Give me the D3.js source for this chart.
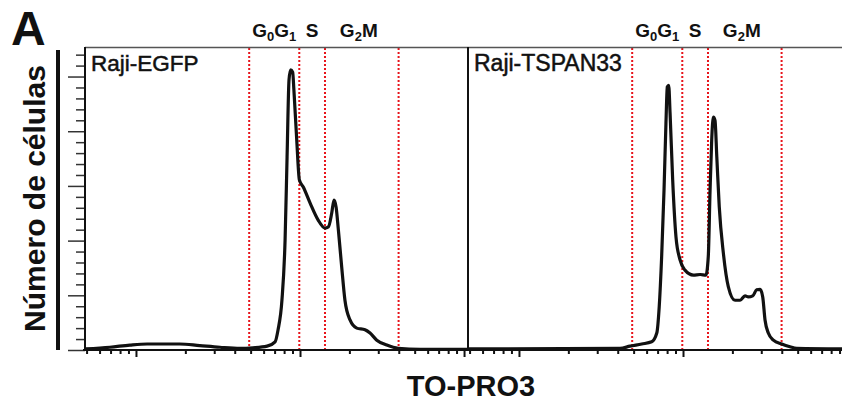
<!DOCTYPE html>
<html>
<head>
<meta charset="utf-8">
<script src="https://cdn.jsdelivr.net/npm/d3@7"></script>
<style>
  html, body { margin: 0; padding: 0; background: #fff; }
  svg { display: block; font-family: "Liberation Sans", Arial, Helvetica, sans-serif; }
</style>
</head>
<body>
<svg id="chart" width="842" height="402"></svg>
<script>
// Cell-cycle DNA content histograms (TO-PRO3), two cell lines
const panelNames = ["Raji-EGFP", "Raji-TSPAN33"];

// Raji-EGFP: TO-PRO3 intensity vs. number of cells
const egfpIntensity = [4.95, 6.93, 9.18, 11.7, 18.5, 24.5, 32.5, 43.1, 51.6, 63.0,
  70.5, 73.5, 77.6, 81.1, 83.4, 85.7, 87.7, 90.2, 91.8, 95.5,
  99.1, 104.7, 115.1, 128.8, 141.9, 148.9, 156.0, 161.1, 166.0, 171.4,
  179.5, 187.9, 201.8, 221.8, 248.9, 267.3, 293.8, 338.1, 396.3, 539.5, 1057];
const egfpCount = [2, 5, 9, 11, 11, 8, 5, 3, 4, 7,
  15, 37, 91, 201, 353, 494, 512, 508, 475, 384,
  311, 298, 269, 238, 223, 225, 250, 274, 261, 219,
  152, 91, 55, 40, 37, 31, 18, 9, 3, 1, 1];

// Raji-TSPAN33: TO-PRO3 intensity vs. number of cells
const tspanIntensity = [4.89, 41.3, 47.5, 56.0, 64.4, 69.2, 71.6, 74.1, 76.6, 78.7,
  80.2, 81.8, 83.4, 86.5, 90.6, 95.9, 102.8, 115.6, 127.1, 138.0,
  142.6, 146.2, 149.6, 153.1, 156.7, 160.7, 166.3, 176.2, 188.8, 207.5,
  222.8, 238.8, 250.0, 266.1, 281.2, 295.1, 306.2, 316.2, 331.1, 355.6,
  400.0, 448.7, 493.3, 1057];
const tspanCount = [2, 3, 7, 11, 15, 31, 79, 171, 292, 414,
  481, 484, 433, 311, 207, 165, 146, 137, 138, 137,
  171, 292, 384, 426, 420, 353, 262, 177, 116, 91,
  91, 99, 97, 99, 110, 111, 97, 55, 31, 18,
  11, 6, 3, 2];

// Gate boundaries (TO-PRO3 intensity) and the phase names between them
const gateBounds = [49, 99, 142, 399];
const phaseNames = ["G0G1", "S", "G2M"];

const xDomain = [4.89, 1057];
const yDomain = [0, 554];
const yMajorTicks = [0, 100, 200, 300, 400, 500];
const yMinorTicks = [20, 40, 60, 80, 120, 140, 160, 180, 220, 240, 260, 280,
  320, 340, 360, 380, 420, 440, 460, 480, 520, 540];

const panelLetter = "A";
const yTitle = "Número de células";
const xTitle = "TO-PRO3";

// ---- layout ----
const plotTop = 47, plotBottom = 350, firstLeft = 85, panelW = 383, svgW = 842;

const svg = d3.select("#chart");
const y = d3.scaleLinear().domain(yDomain).range([plotBottom, plotTop]);

const series = [
  egfpIntensity.map((v, i) => [v, egfpCount[i]]),
  tspanIntensity.map((v, i) => [v, tspanCount[i]])
];

const isDecade = v => Math.abs(Math.log10(v) - Math.round(Math.log10(v))) < 1e-9;

panelNames.forEach((name, i) => {
  const x0 = firstLeft + i * panelW;
  const x = d3.scaleLog().domain(xDomain).range([x0, x0 + panelW]);
  const g = svg.append("g");

  // gate lines
  g.selectAll("line.gate").data(gateBounds).join("line")
    .attr("class", "gate")
    .attr("x1", d => x(d)).attr("x2", d => x(d))
    .attr("y1", plotTop + 1).attr("y2", plotBottom)
    .attr("stroke", "#e8141b").attr("stroke-width", 2)
    .attr("stroke-dasharray", "2,2");

  // histogram outline
  const line = d3.line().x(d => x(d[0])).y(d => y(d[1])).curve(d3.curveMonotoneX);
  g.append("path").datum(series[i])
    .attr("d", line)
    .attr("fill", "none").attr("stroke", "#111")
    .attr("stroke-width", 3.2).attr("stroke-linejoin", "round");

  // x-axis ticks: decades long, intermediate short
  const allTicks = x.ticks();
  const majors = allTicks.filter(isDecade);
  const minors = allTicks.filter(v => !isDecade(v));
  [[majors, 7], [minors, 4]].forEach(([vals, size]) => {
    const ax = g.append("g").attr("transform", `translate(0,${plotBottom})`)
      .call(d3.axisBottom(x).tickValues(vals).tickSize(size).tickSizeOuter(0).tickFormat(""));
    ax.select(".domain").remove();
    ax.selectAll(".tick line").attr("stroke", "#111").attr("stroke-width", 2);
  });

  // panel name
  g.append("text")
    .attr("x", x0 + 6).attr("y", 70.5)
    .attr("font-size", i ? 23 : 22.5).attr("fill", "#111")
    .attr("stroke", "#111").attr("stroke-width", 0.5)
    .text(name);

  // phase labels centred on their gate intervals, digits as subscripts
  phaseNames.forEach((p, k) => {
    const cx = (x(gateBounds[k]) + x(gateBounds[k + 1])) / 2 + (k === 2 ? -3 : 0);
    const t = g.append("text")
      .attr("x", cx).attr("y", 37)
      .attr("text-anchor", "middle")
      .attr("font-weight", "bold").attr("font-size", 19).attr("fill", "#111");
    let sub = false;
    p.split("").forEach(ch => {
      const digit = /[0-9]/.test(ch);
      const s = t.append("tspan").text(ch);
      if (digit) s.attr("font-size", 13);
      if (digit && !sub) s.attr("dy", 4);
      if (!digit && sub) s.attr("dy", -4);
      sub = digit;
    });
  });
});

// y-axis ticks
[[yMajorTicks, 17], [yMinorTicks, 9]].forEach(([vals, size]) => {
  const ax = svg.append("g").attr("transform", `translate(${firstLeft},0)`)
    .call(d3.axisLeft(y).tickValues(vals).tickSize(size).tickSizeOuter(0).tickFormat(""));
  ax.select(".domain").remove();
  ax.selectAll(".tick line").attr("stroke", "#333").attr("stroke-width", 1.5);
});

// frame
svg.append("line").attr("x1", firstLeft).attr("x2", svgW)
  .attr("y1", plotTop + 0.5).attr("y2", plotTop + 0.5)
  .attr("stroke", "#555").attr("stroke-width", 1.5);
svg.append("line").attr("x1", firstLeft).attr("x2", firstLeft)
  .attr("y1", plotTop).attr("y2", plotBottom)
  .attr("stroke", "#111").attr("stroke-width", 2);
svg.append("line").attr("x1", firstLeft + panelW).attr("x2", firstLeft + panelW)
  .attr("y1", plotTop).attr("y2", plotBottom)
  .attr("stroke", "#111").attr("stroke-width", 2);
svg.append("line").attr("x1", firstLeft - 2).attr("x2", svgW)
  .attr("y1", plotBottom).attr("y2", plotBottom)
  .attr("stroke", "#111").attr("stroke-width", 2);

// bracket bar beside the y title
svg.append("line").attr("x1", 58).attr("x2", 58)
  .attr("y1", 50).attr("y2", plotBottom)
  .attr("stroke", "#111").attr("stroke-width", 4);

// titles
svg.append("text").attr("x", 11).attr("y", 45)
  .attr("font-weight", "bold").attr("font-size", 48).attr("fill", "#111")
  .text(panelLetter);

svg.append("text")
  .attr("transform", `translate(45,${(plotTop + plotBottom) / 2}) rotate(-90)`)
  .attr("text-anchor", "middle")
  .attr("font-weight", "bold").attr("font-size", 30).attr("fill", "#111")
  .text(yTitle);

svg.append("text").attr("x", 471).attr("y", 396)
  .attr("text-anchor", "middle")
  .attr("font-weight", "bold").attr("font-size", 29).attr("fill", "#111")
  .text(xTitle);
</script>
</body>
</html>
